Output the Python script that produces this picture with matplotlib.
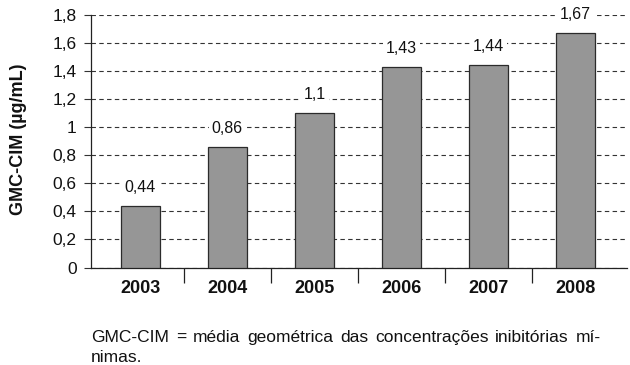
import matplotlib
matplotlib.use("Agg")
import matplotlib.pyplot as plt
from matplotlib.ticker import FixedLocator, FuncFormatter

plt.rcParams['font.family'] = ['Liberation Sans', 'DejaVu Sans']

years = ["2003", "2004", "2005", "2006", "2007", "2008"]
gmc_cim = [0.44, 0.86, 1.1, 1.43, 1.44, 1.67]
y_ticks = [0, 0.2, 0.4, 0.6, 0.8, 1.0, 1.2, 1.4, 1.6, 1.8]
y_label = "GMC-CIM (µg/mL)"
caption_lines = [
    "GMC-CIM = média geométrica das concentrações inibitórias mí-",
    "nimas.",
]


def comma(v):
    s = f"{v:g}"
    return s.replace(".", ",")


fig = plt.figure(figsize=(6.3, 3.65), dpi=100)
W, H = 630, 365
ax = fig.add_axes([0.144, 0.267, 0.851, 0.692])

x = list(range(len(years)))
ax.bar(x, gmc_cim, width=0.45, color="#969696", edgecolor="#2b2b2b",
       linewidth=0.9, zorder=3)

for xi, v in zip(x, gmc_cim):
    ax.annotate(comma(v), (xi, v), xytext=(0, 8), textcoords="offset points",
                ha="center", va="bottom", fontsize=11.5, color="#111111",
                zorder=4,
                bbox=dict(boxstyle="square,pad=0.2", facecolor="white",
                          edgecolor="none"))

ax.set_ylim(0, 1.8)
ax.set_xlim(-0.57, 5.59)
ax.set_yticks(y_ticks)
ax.yaxis.set_major_formatter(FuncFormatter(lambda v, p: comma(round(v, 1))))
ax.tick_params(axis="y", length=5, width=0.8, color="#333333",
               labelsize=12.5, pad=5, labelcolor="#111111")

ax.set_xticks(x)
ax.set_xticklabels(years, fontsize=13, fontweight="bold", color="#111111")
ax.tick_params(axis="x", which="major", length=0, pad=9)
ax.xaxis.set_minor_locator(FixedLocator([i + 0.5 for i in range(len(years) - 1)]))
ax.tick_params(axis="x", which="minor", length=11, width=0.9, color="#222222")

ax.yaxis.grid(True, linestyle=(0, (4, 3)), color="#333333", linewidth=0.8,
              zorder=0)
ax.set_axisbelow(True)

for side in ("top", "right"):
    ax.spines[side].set_visible(False)
for side in ("left", "bottom"):
    ax.spines[side].set_linewidth(0.9)
    ax.spines[side].set_color("#222222")

fig.text(19 / W, 1 - 139 / H, y_label, rotation=90, fontsize=13,
         fontweight="bold", ha="center", va="center", color="#111111")

# justified caption under the chart, words share one baseline
fig.canvas.draw()
renderer = fig.canvas.get_renderer()
left_px, right_px = 91, 601
baselines = [342, 362]
texts = []
for w in caption_lines[0].split(" "):
    t = fig.text(0, 1 - baselines[0] / H, w, fontsize=12.5, va="baseline",
                 ha="left", color="#111111")
    texts.append(t)
widths = [t.get_window_extent(renderer).width for t in texts]
gap = (right_px - left_px - sum(widths)) / (len(texts) - 1)
pos = left_px
for t, wd in zip(texts, widths):
    t.set_x(pos / W)
    pos += wd + gap
fig.text(left_px / W, 1 - baselines[1] / H, caption_lines[1], fontsize=12.5,
         va="baseline", ha="left", color="#111111")

fig.savefig("out.png", dpi=100)
